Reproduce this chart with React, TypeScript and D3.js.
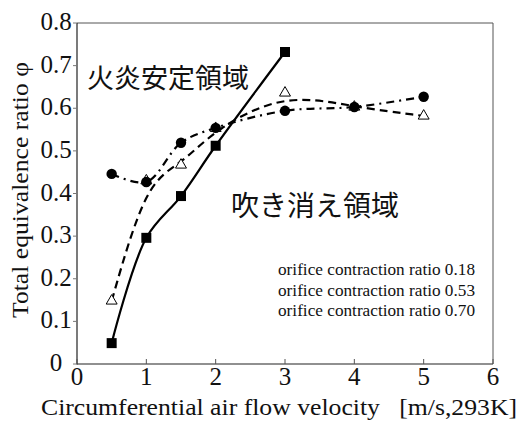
import React from "react";
import * as d3 from "d3";

// Circumferential air flow velocity [m/s]
const velocity = [0.5, 1.0, 1.5, 2.0, 3.0, 4.0, 5.0];
const velocitySquare = [0.5, 1.0, 1.5, 2.0, 3.0];

// Blow-off limit equivalence ratio for each orifice
const ratio018 = [0.049, 0.296, 0.394, 0.512, 0.732];
const ratio053 = [0.148, 0.43, 0.467, 0.553, 0.636, 0.603, 0.582];
const ratio070 = [0.446, 0.427, 0.519, 0.554, 0.594, 0.603, 0.627];

const xTicks = [0, 1, 2, 3, 4, 5, 6];
const yTicks = [0, 0.1, 0.2, 0.3, 0.4, 0.5, 0.6, 0.7, 0.8];
const legendLabels = [
  "orifice contraction ratio 0.18",
  "orifice contraction ratio 0.53",
  "orifice contraction ratio 0.70",
];

const W = 519;
const H = 425;
const serif = "'Liberation Serif', 'Times New Roman', serif";
const jp = "'Noto Sans CJK JP', sans-serif";

export default function App() {
  const x = d3.scaleLinear().domain([0, 6]).range([77, 493]);
  const y = d3.scaleLinear().domain([0, 0.8]).range([364, 23]);

  const pts = (xs: number[], ys: number[]) => xs.map((v, i) => [v, ys[i]] as [number, number]);

  const solid = d3
    .line<[number, number]>()
    .x((d) => x(d[0]))
    .y((d) => y(d[1]))
    .curve(d3.curveCatmullRom.alpha(0.5));
  const dashed = d3
    .line<[number, number]>()
    .x((d) => x(d[0]))
    .y((d) => y(d[1]))
    .curve(d3.curveBasis);
  const dashDot = d3
    .line<[number, number]>()
    .x((d) => x(d[0]))
    .y((d) => y(d[1]))
    .curve(d3.curveCatmullRom.alpha(0.5));

  const sq = d3.symbol(d3.symbolSquare, 100)()!;
  const circ = d3.symbol(d3.symbolCircle, 85)()!;
  const tri = d3.symbol(d3.symbolTriangle, 52)()!;

  const [x0, x1] = x.range();
  const [y0, y1] = y.range();

  return (
    <svg
      width={W}
      height={H}
      style={{ position: "absolute", left: 0, top: 0, background: "#fff" }}
    >
      {/* frame */}
      <line x1={x0} x2={x1} y1={y1} y2={y1} stroke="#555" strokeWidth={1} />
      <line x1={x1} x2={x1} y1={y1} y2={y0} stroke="#555" strokeWidth={1} />
      <line x1={x0} x2={x0} y1={y1} y2={y0 + 0.5} stroke="#222" strokeWidth={1.2} />
      <line x1={x0} x2={x1} y1={y0} y2={y0} stroke="#222" strokeWidth={1.2} />

      {/* y ticks */}
      {yTicks.map((t) => (
        <g key={"y" + t}>
          <line x1={x0 - 4} x2={x0} y1={y(t)} y2={y(t)} stroke="#777" strokeWidth={1} />
          <text
            x={56}
            y={y(t) + 7}
            textAnchor="middle"
            fontFamily={serif}
            fontSize={25}
            fill="#111"
          >
            {t === 0 ? "0" : t.toFixed(1)}
          </text>
        </g>
      ))}

      {/* x ticks */}
      {xTicks.map((t) => (
        <g key={"x" + t}>
          <line x1={x(t)} x2={x(t)} y1={y0} y2={y0 - 5} stroke="#555" strokeWidth={1} />
          <text
            x={x(t)}
            y={385}
            textAnchor="middle"
            fontFamily={serif}
            fontSize={25}
            fill="#111"
          >
            {t}
          </text>
        </g>
      ))}

      {/* axis titles */}
      <text
        x={279}
        y={415}
        textAnchor="middle"
        fontFamily={serif}
        fontSize={23.5}
        fill="#111"
        style={{ whiteSpace: "pre" }}
        textLength={476}
        lengthAdjust="spacingAndGlyphs"
      >
        {"Circumferential air flow velocity   [m/s,293K]"}
      </text>
      <text
        transform="translate(28,190) rotate(-90)"
        textAnchor="middle"
        fontFamily={serif}
        fontSize={23.5}
        fill="#111"
        textLength={256}
        lengthAdjust="spacingAndGlyphs"
      >
        Total equivalence ratio φ
      </text>

      {/* region labels */}
      <text x={87} y={88} fontFamily={jp} fontSize={27} fill="#111">
        火炎安定領域
      </text>
      <text x={231} y={216} fontFamily={jp} fontSize={28} fill="#111">
        吹き消え領域
      </text>

      {/* legend */}
      {legendLabels.map((l, i) => (
        <text
          key={l}
          x={278}
          y={275 + i * 20.5}
          fontFamily={serif}
          fontSize={17}
          fill="#111"
          textLength={197}
          lengthAdjust="spacingAndGlyphs"
        >
          {l}
        </text>
      ))}

      {/* curves */}
      <path
        d={dashDot(pts(velocity, ratio070))!}
        fill="none"
        stroke="#000"
        strokeWidth={2.2}
        strokeDasharray="8,5,2,5"
      />
      <path
        d={dashed(pts(velocity, ratio053))!}
        fill="none"
        stroke="#000"
        strokeWidth={2.2}
        strokeDasharray="8,5"
      />
      <path
        d={solid(pts(velocitySquare, ratio018))!}
        fill="none"
        stroke="#000"
        strokeWidth={2.2}
      />

      {/* markers */}
      {velocity.map((v, i) => (
        <path
          key={"t" + i}
          d={tri}
          transform={`translate(${x(v)},${y(ratio053[i])})`}
          fill="#fff"
          stroke="#000"
          strokeWidth={1}
        />
      ))}
      {velocity.map((v, i) => (
        <path
          key={"c" + i}
          d={circ}
          transform={`translate(${x(v)},${y(ratio070[i])})`}
          fill="#000"
        />
      ))}
      {velocitySquare.map((v, i) => (
        <path
          key={"s" + i}
          d={sq}
          transform={`translate(${x(v)},${y(ratio018[i])})`}
          fill="#000"
        />
      ))}
    </svg>
  );
}
